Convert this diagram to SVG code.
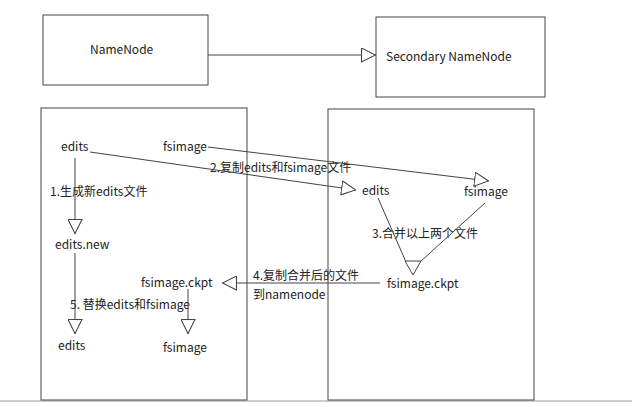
<svg xmlns="http://www.w3.org/2000/svg" width="632" height="407" viewBox="0 0 632 407">
<style>
text{font-family:"Noto Sans CJK SC","Noto Sans",sans-serif;font-size:12px;fill:#222}
.b{fill:#fff;stroke:#444;stroke-width:1}
.c{stroke:#444;stroke-width:1;fill:none;marker-end:url(#a)}
.n{stroke:#444;stroke-width:1;fill:none}
.h{fill:#fff;stroke:#444;stroke-width:1}
</style>
<defs><marker id="a" viewBox="0 0 14 14" refX="14" refY="7" markerWidth="15" markerHeight="15" markerUnits="userSpaceOnUse" orient="auto"><path d="M0.5,0.5L13.5,7L0.5,13.5Z" fill="#fff" stroke="#444"/></marker></defs>
<rect width="632" height="407" fill="#fff"/>
<line x1="0" y1="401" x2="632" y2="401" stroke="#999"/>
<g id="namenode"><rect class="b" x="43" y="15" width="165" height="70"/><text x="90" y="54">NameNode</text></g>
<g id="secondary"><rect class="b" x="376" y="17" width="169" height="80"/><text x="386" y="61">Secondary NameNode</text></g>
<g id="left"><rect class="b" x="41" y="108" width="206" height="292"/>
<text x="61" y="151">edits</text><text x="163" y="151">fsimage</text>
<text x="50" y="196">1.生成新edits文件</text><text x="55" y="249">edits.new</text>
<text x="141" y="287">fsimage.ckpt</text><text x="70" y="309">5. 替换edits和fsimage</text>
<text x="58" y="350">edits</text><text x="163" y="352">fsimage</text></g>
<g id="right"><rect class="b" x="328" y="109" width="206" height="291"/>
<text x="362" y="195">edits</text><text x="464" y="196">fsimage</text>
<text x="372" y="238">3.合并以上两个文件</text><text x="387" y="288">fsimage.ckpt</text></g>
<g id="labels"><text x="210" y="172">2.复制edits和fsimage文件</text>
<text x="253" y="280">4.复制合并后的文件</text><text x="253" y="299">到namenode</text></g>
<g id="connectors">
<line class="c" x1="208" y1="55" x2="376" y2="55"/>
<line class="c" x1="90" y1="152" x2="356" y2="190"/>
<line class="c" x1="208" y1="147" x2="489" y2="181"/>
<line class="c" x1="75" y1="158" x2="75" y2="234"/>
<line class="c" x1="75" y1="253" x2="75" y2="334"/>
<line class="c" x1="188" y1="289" x2="188" y2="334"/>
<line class="n" x1="378" y1="198" x2="406" y2="262"/>
<line class="n" x1="485" y1="203" x2="420" y2="262"/>
<path class="h" d="M405,261L421,261L413,275Z"/>
<line class="c" x1="380" y1="283" x2="222" y2="283"/>
</g>
</svg>
